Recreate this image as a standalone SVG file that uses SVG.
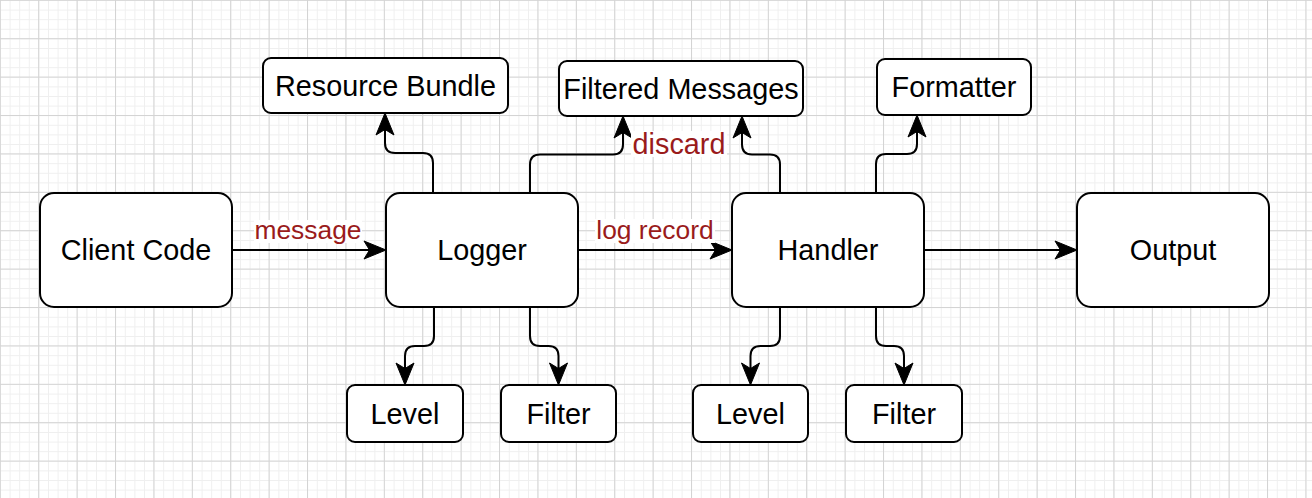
<svg xmlns="http://www.w3.org/2000/svg" width="1312" height="498" viewBox="0 0 1312 498">
<defs>
<pattern id="minor" patternUnits="userSpaceOnUse" width="9.6" height="9.6">
<path d="M0,0.5 H9.6 M0.5,0 V9.6" fill="none" stroke="#efefef" stroke-width="1"/>
</pattern>
<pattern id="major" patternUnits="userSpaceOnUse" width="38.4" height="38.4">
<path d="M0,0.5 H38.4 M0.5,0 V38.4" fill="none" stroke="#d4d4d4" stroke-width="1"/>
</pattern>
<marker id="arr" markerUnits="userSpaceOnUse" viewBox="-24 -12 26 24" refX="-10" refY="0" markerWidth="26" markerHeight="24" orient="auto">
<path d="M0,0 L-22,-9 L-16.5,0 L-22,9 Z" fill="#000" stroke="#000" stroke-width="1" stroke-linejoin="miter"/>
</marker>
<style>
.node rect{fill:#fff;stroke:#000;stroke-width:2}
.node text{font-family:"Liberation Sans",Arial,sans-serif;font-size:28.8px;fill:#000;text-anchor:middle}
.edge{fill:none;stroke:#000;stroke-width:2;marker-end:url(#arr)}
.lbl rect{fill:#fff}
.lbl text{font-family:"Liberation Sans",Arial,sans-serif;font-size:26.4px;fill:#9a1b1b;text-anchor:middle}
</style>
</defs>
<rect width="1312" height="498" fill="#fff"/>
<rect width="1312" height="498" fill="url(#minor)"/>
<rect x="-0.7" y="-0.7" width="1313" height="499" fill="url(#major)" transform="translate(-0.2,-0.2)"/>

<g id="connectors">
<path class="edge" d="M232,250 H376"/>
<path class="edge" d="M578,250 H722"/>
<path class="edge" d="M924,250 H1067"/>
<path class="edge" d="M433,193 V163 Q433,153 423,153 H395 Q385,153 385,143 V123"/>
<path class="edge" d="M530,193 V164.5 Q530,154.5 540,154.5 H613 Q623,154.5 623,144.5 V126"/>
<path class="edge" d="M780,193 V164.5 Q780,154.5 770,154.5 H752 Q742,154.5 742,144.5 V126"/>
<path class="edge" d="M876,193 V164 Q876,154 886,154 H907 Q917,154 917,144 V125"/>
<path class="edge" d="M434,307 V336 Q434,346 424,346 H415 Q405,346 405,356 V375"/>
<path class="edge" d="M530,307 V336 Q530,346 540,346 H548.5 Q558.5,346 558.5,356 V375"/>
<path class="edge" d="M780,307 V336 Q780,346 770,346 H760.5 Q750.5,346 750.5,356 V375"/>
<path class="edge" d="M876,307 V336 Q876,346 886,346 H894 Q904,346 904,356 V375"/>
<g class="lbl">
<rect x="254" y="220" width="108" height="23"/>
<text x="308" y="239">message</text>
<rect x="595" y="219" width="120" height="24"/>
<text x="655" y="238.5">log record</text>
<rect x="631" y="131" width="96" height="26"/>
<text x="679" y="154" style="font-size:28.8px">discard</text>
</g>
</g>

<g id="client-code" class="node"><rect x="40" y="193" width="192" height="114" rx="14"/><text x="136" y="260">Client Code</text></g>
<g id="logger" class="node"><rect x="386" y="193" width="192" height="114" rx="14"/><text x="482" y="260">Logger</text></g>
<g id="handler" class="node"><rect x="732" y="193" width="192" height="114" rx="14"/><text x="828" y="260">Handler</text></g>
<g id="output" class="node"><rect x="1077" y="193" width="192" height="114" rx="14"/><text x="1173" y="260">Output</text></g>
<g id="resource-bundle" class="node"><rect x="263" y="58" width="245" height="55" rx="8"/><text x="385.5" y="95.5">Resource Bundle</text></g>
<g id="filtered-messages" class="node"><rect x="559" y="61" width="244" height="55" rx="8"/><text x="681" y="98.5">Filtered Messages</text></g>
<g id="formatter" class="node"><rect x="877" y="59" width="154" height="56" rx="8"/><text x="954" y="97">Formatter</text></g>
<g id="logger-level" class="node"><rect x="347" y="385" width="116" height="57" rx="8"/><text x="405" y="423.5">Level</text></g>
<g id="logger-filter" class="node"><rect x="501" y="385" width="115" height="57" rx="8"/><text x="558.5" y="423.5">Filter</text></g>
<g id="handler-level" class="node"><rect x="693" y="385" width="115" height="57" rx="8"/><text x="750.5" y="423.5">Level</text></g>
<g id="handler-filter" class="node"><rect x="846" y="385" width="116" height="57" rx="8"/><text x="904" y="423.5">Filter</text></g>
</svg>
